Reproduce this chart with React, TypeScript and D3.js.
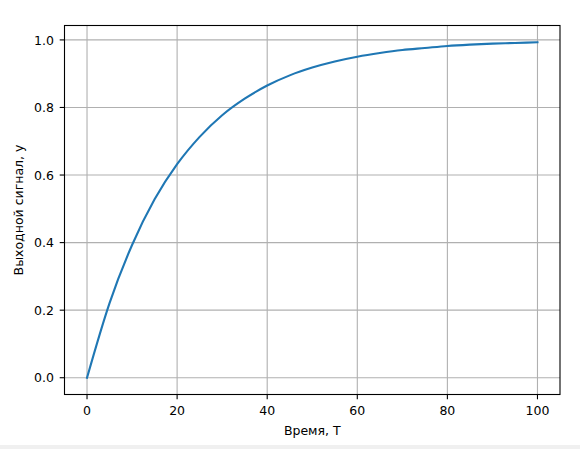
import React from "react";
import * as d3 from "d3";

const timeValues = [0, 5, 10, 15, 20, 25, 30, 35, 40, 45, 50, 55, 60, 65, 70, 75, 80, 85, 90, 95, 100];
const outputValues = [0, 0.221, 0.393, 0.528, 0.632, 0.713, 0.777, 0.826, 0.865, 0.895, 0.918, 0.936, 0.95, 0.961, 0.97, 0.976, 0.982, 0.986, 0.989, 0.991, 0.993];
const xTicks = [0, 20, 40, 60, 80, 100];
const yTicks = [0, 0.2, 0.4, 0.6, 0.8, 1.0];
const xLabel = "Время, T";
const yLabel = "Выходной сигнал, y";

export default function App() {
  const W = 580, H = 449;
  const left = 64.5, right = 560, top = 25.5, bottom = 394.5;
  const x = d3.scaleLinear().domain([-5, 105]).range([left, right]);
  const yMax = d3.max(outputValues) as number;
  const m = yMax * 0.05;
  const y = d3.scaleLinear().domain([-m, yMax + m]).range([bottom, top]);
  const pts: [number, number][] = timeValues.map((t, i) => [t, outputValues[i]]);
  const line = d3.line<[number, number]>().x(d => x(d[0])).y(d => y(d[1])).curve(d3.curveMonotoneX);
  const font = "DejaVu Sans, sans-serif";
  const fs = 12.5;
  return (
    <svg width={W} height={H} style={{ position: "absolute", left: 0, top: 0 }}>
      <rect x={0} y={0} width={W} height={H} fill="#fff" />
      <rect x={0} y={445} width={W} height={4} fill="#f0f0f0" />
      <g>
        {xTicks.map(t => (
          <line key={"gx" + t} x1={x(t)} x2={x(t)} y1={top} y2={bottom} stroke="#b0b0b0" strokeWidth={1.1} />
        ))}
        {yTicks.map(t => (
          <line key={"gy" + t} x1={left} x2={right} y1={y(t)} y2={y(t)} stroke="#b0b0b0" strokeWidth={1.1} />
        ))}
      </g>
      <path d={line(pts) || ""} fill="none" stroke="#1f77b4" strokeWidth={2.1} strokeLinecap="square" />
      <rect x={left} y={top} width={right - left} height={bottom - top} fill="none" stroke="#000" strokeWidth={1.1} />
      {xTicks.map(t => (
        <g key={"tx" + t}>
          <line x1={x(t)} x2={x(t)} y1={bottom} y2={bottom + 4.8} stroke="#000" strokeWidth={1.1} />
          <text x={x(t)} y={bottom + 20} textAnchor="middle" fontFamily={font} fontSize={fs} fill="#000">{t}</text>
        </g>
      ))}
      {yTicks.map(t => (
        <g key={"ty" + t}>
          <line x1={left - 4.8} x2={left} y1={y(t)} y2={y(t)} stroke="#000" strokeWidth={1.1} />
          <text x={left - 10.5} y={y(t) + 4.6} textAnchor="end" fontFamily={font} fontSize={fs} fill="#000">{t.toFixed(1)}</text>
        </g>
      ))}
      <text x={(left + right) / 2} y={434.5} textAnchor="middle" fontFamily={font} fontSize={fs} fill="#000">{xLabel}</text>
      <text transform={`translate(22.5,${(top + bottom) / 2}) rotate(-90)`} textAnchor="middle" fontFamily={font} fontSize={fs} fill="#000">{yLabel}</text>
    </svg>
  );
}
